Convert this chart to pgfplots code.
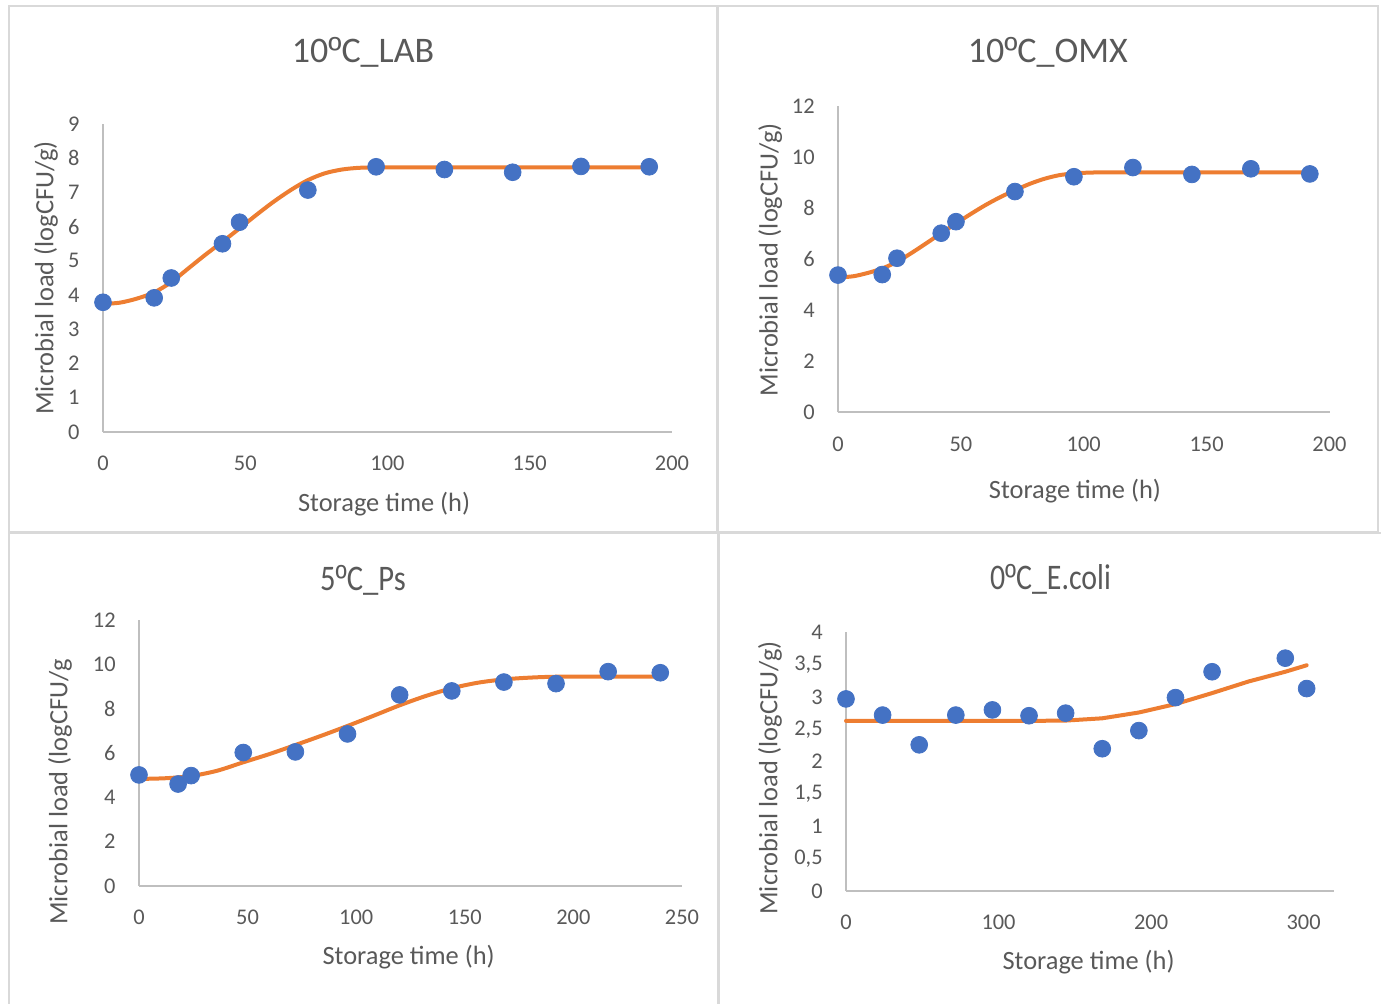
\documentclass[border=0pt]{standalone}
\usepackage{pgfplots}
\pgfplotsset{compat=1.18}
\usepackage{fontspec}
\setmainfont{Carlito}
\newfontfamily\lib{Liberation Sans}
\newcommand{\ordm}{{\lib º}}
\definecolor{txtgray}{HTML}{595959}
\definecolor{axisgray}{HTML}{BFBFBF}
\definecolor{boxgray}{HTML}{D9D9D9}
\definecolor{dotblue}{HTML}{4472C4}
\definecolor{lineorange}{HTML}{ED7D31}
\pgfplotsset{
  panel/.style={
    scale only axis, anchor=south west, clip=false,
    enlargelimits=false,
    axis x line*=bottom, axis y line*=left,
    axis line style={draw=axisgray, line width=1pt},
    major tick length=0pt,
    tick label style={font=\fontsize{11.2}{13}\selectfont, text=txtgray},
    /pgf/number format/assume math mode=true,
    yticklabel style={anchor=east, inner sep=0pt, xshift=-11.5pt},
    xticklabel style={anchor=north, inner sep=0pt, yshift=-12pt},
    xlabel style={font=\fontsize{13.2}{15}\selectfont, text=txtgray, anchor=center},
    ylabel style={font=\fontsize{13.2}{15}\selectfont, text=txtgray, anchor=center},
    title style={font=\fontsize{18}{21}\selectfont, text=txtgray, anchor=center},
  },
  dots/.style={only marks, mark=*, mark size=4.2pt, draw=dotblue, fill=dotblue, mark options={draw=dotblue, fill=dotblue}},
  fit/.style={no marks, draw=lineorange, line width=2pt, line join=round, line cap=round},
}
\begin{document}
\begin{tikzpicture}
\path[use as bounding box] (0pt,0pt) rectangle (690.5pt,502pt);
% panel boxes
\draw[boxgray, line width=1pt] (4.5pt,236pt) rectangle (358.5pt,499pt);
\draw[boxgray, line width=1pt] (359pt,236pt) rectangle (689pt,499pt);
\draw[boxgray, line width=1pt] (4.5pt,-5pt) rectangle (359pt,235.5pt);
\draw[boxgray, line width=1pt] (359.5pt,-5pt) rectangle (695pt,235.5pt);

% Panel 1: 10C LAB
\begin{axis}[panel, at={(51.5pt,286pt)}, width=284.5pt, height=154pt,
  xmin=0, xmax=200, ymin=0, ymax=9,
  xtick={0,50,100,150,200}, ytick={0,1,...,9},
  title={10\ordm C\_LAB}, title style={at={(axis description cs:0.457,1.195)}},
  xlabel={Storage time (h)}, xlabel style={at={(axis description cs:0.494,-0.234)}},
  ylabel={Microbial load (logCFU/g)}, ylabel style={at={(axis description cs:-0.100,0.5)}},
]
\addplot[dots] coordinates {(0,3.79) (18,3.92) (24,4.50) (42,5.50) (48,6.13) (72,7.07) (96,7.75) (120,7.67) (144,7.59) (168,7.76) (192,7.75)};
\addplot[fit, smooth] coordinates {(0,3.74) (6,3.78) (12,3.90) (18,4.08) (24,4.38) (30,4.78) (36,5.18) (42,5.56) (48,5.95) (54,6.35) (60,6.73) (66,7.07) (72,7.36) (78,7.56) (84,7.67) (90,7.72) (96,7.73) (120,7.73) (150,7.73) (192,7.73)};
\end{axis}

% Panel 2: 10C OMX
\begin{axis}[panel, at={(419pt,295.75pt)}, width=245.75pt, height=153.25pt,
  xmin=0, xmax=200, ymin=0, ymax=12,
  xtick={0,50,100,150,200}, ytick={0,2,...,12},
  title={10\ordm C\_OMX}, title style={at={(axis description cs:0.427,1.137)}},
  xlabel={Storage time (h)}, xlabel style={at={(axis description cs:0.482,-0.256)}},
  ylabel={Microbial load (logCFU/g)}, ylabel style={at={(axis description cs:-0.138,0.498)}},
]
\addplot[dots] coordinates {(0,5.38) (18,5.40) (24,6.04) (42,7.02) (48,7.47) (72,8.65) (96,9.23) (120,9.59) (144,9.32) (168,9.54) (192,9.34)};
\addplot[fit, smooth] coordinates {(0,5.29) (6,5.33) (12,5.46) (18,5.64) (24,5.90) (30,6.25) (36,6.63) (42,7.02) (48,7.40) (54,7.77) (60,8.12) (66,8.43) (72,8.70) (78,8.95) (84,9.15) (90,9.29) (96,9.36) (102,9.39) (110,9.40) (150,9.40) (192,9.40)};
\end{axis}

% Panel 3: 5C Ps
\begin{axis}[panel, at={(69.5pt,59pt)}, width=271.5pt, height=133pt,
  xmin=0, xmax=250, ymin=0, ymax=12,
  xtick={0,50,100,150,200,250}, ytick={0,2,...,12},
  title={\scalebox{0.85}[1]{5\ordm C\_Ps}}, title style={at={(axis description cs:0.4125,1.105)}},
  xlabel={Storage time (h)}, xlabel style={at={(axis description cs:0.4965,-0.266)}},
  ylabel={Microbial load (logCFU/g}, ylabel style={at={(axis description cs:-0.1455,0.353)}},
]
\addplot[dots] coordinates {(0,5.01) (18,4.60) (24,4.98) (48,6.02) (72,6.05) (96,6.86) (120,8.62) (144,8.80) (168,9.20) (192,9.13) (216,9.67) (240,9.62)};
\addplot[fit, smooth] coordinates {(0,4.83) (12,4.86) (24,4.96) (36,5.20) (48,5.58) (60,5.95) (72,6.36) (84,6.78) (96,7.22) (108,7.68) (120,8.15) (132,8.57) (144,8.92) (156,9.17) (168,9.32) (180,9.40) (192,9.44) (216,9.45) (240,9.45)};
\end{axis}

% Panel 4: 0C E.coli
\begin{axis}[panel, at={(423pt,56.5pt)}, width=244.05pt, height=129.35pt,
  xmin=0, xmax=320, ymin=0, ymax=4,
  xtick={0,100,200,300}, ytick={0,0.5,...,4},
  /pgf/number format/use comma,
  title={\scalebox{0.83}[1]{0\ordm C\_E.coli}}, title style={at={(axis description cs:0.419,1.160)}},
  xlabel={Storage time (h)}, xlabel style={at={(axis description cs:0.497,-0.273)}},
  ylabel={Microbial load (logCFU/g)}, ylabel style={at={(axis description cs:-0.156,0.437)}},
]
\addplot[dots] coordinates {(0,2.97) (24,2.72) (48,2.26) (72,2.72) (96,2.80) (120,2.71) (144,2.75) (168,2.20) (192,2.48) (216,2.99) (240,3.39) (288,3.60) (302,3.13)};
\addplot[fit] coordinates {(0,2.63) (24,2.63) (48,2.63) (72,2.63) (96,2.63) (120,2.63) (144,2.635) (168,2.67) (192,2.76) (216,2.89) (240,3.06) (264,3.24) (288,3.39) (302,3.49)};
\end{axis}
\end{tikzpicture}
\end{document}
